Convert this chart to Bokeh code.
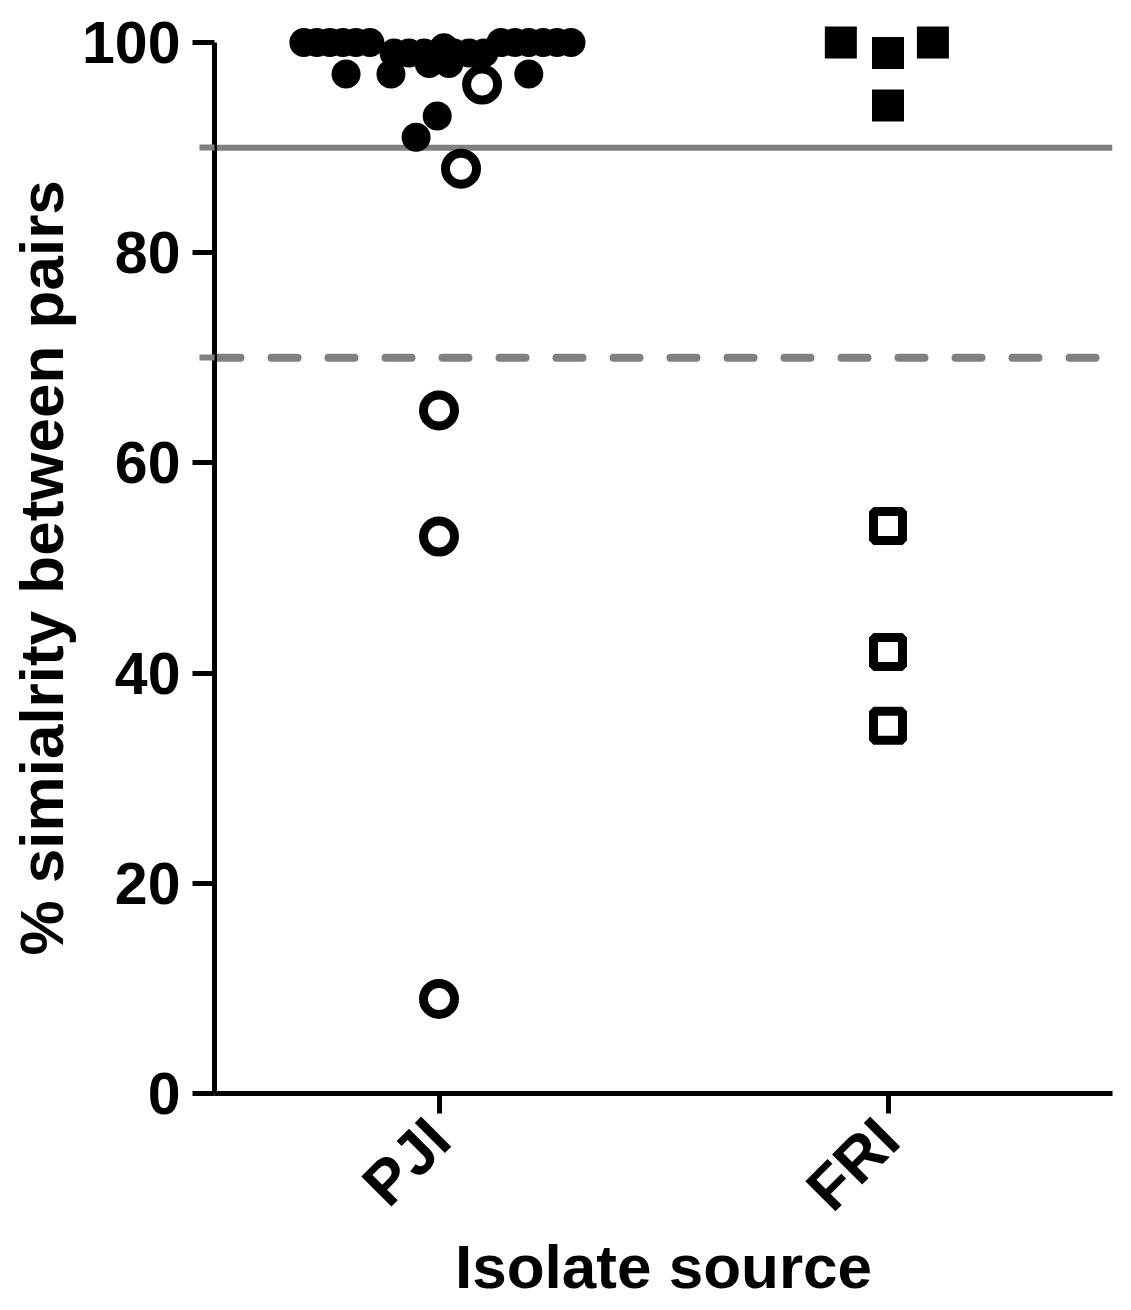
import math
from bokeh.plotting import figure
from bokeh.models import FixedTicker, Span, Range1d, Title
from bokeh.embed import file_html
from bokeh.resources import INLINE

# ---- data ----
categories = ["PJI", "FRI"]

# PJI, pairs above threshold (filled circles): value and horizontal jitter (category units)
pji_closed_y = [100, 100, 100, 100, 100, 100, 100, 100, 100, 100, 100, 100,
                99, 99, 99, 99, 99, 99, 99.5, 98, 98, 97, 97, 97, 93, 91]
pji_closed_dx = [-0.301, -0.272, -0.243, -0.214, -0.185, -0.154,
                 0.138, 0.169, 0.200, 0.232, 0.263, 0.294,
                 -0.100, -0.067, -0.033, 0.033, 0.067, 0.100, 0.011,
                 -0.022, 0.022, -0.207, -0.107, 0.200, -0.004, -0.051]

# PJI, open circles
pji_open_y = [96, 88, 65, 53, 9]
pji_open_dx = [0.096, 0.049, 0.0, 0.0, 0.0]

# FRI, filled squares
fri_closed_y = [100, 99, 100, 94]
fri_closed_dx = [-0.105, 0.0, 0.100, 0.0]

# FRI, open squares
fri_open_y = [54, 42, 35]
fri_open_dx = [0.0, 0.0, 0.0]

threshold_solid = 90
threshold_dashed = 70
y_ticks = [0, 20, 40, 60, 80, 100]

y_label = "% simialrity between pairs"
x_label = "Isolate source"

# ---- positions from categories ----
pos = {c: i + 1 for i, c in enumerate(categories)}
pji_closed_x = [pos["PJI"] + d for d in pji_closed_dx]
pji_open_x = [pos["PJI"] + d for d in pji_open_dx]
fri_closed_x = [pos["FRI"] + d for d in fri_closed_dx]
fri_open_x = [pos["FRI"] + d for d in fri_open_dx]

FONT = "Liberation Sans"
GRAY = "#808080"

p = figure(frame_width=898, frame_height=1085, title=None,
           x_range=Range1d(0.5, 2.5), y_range=Range1d(0, 103.24),
           output_backend="svg", toolbar_location=None,
           min_border_left=214, min_border_right=5,
           min_border_top=8, min_border_bottom=200)
p.outline_line_color = None
p.xgrid.visible = False
p.ygrid.visible = False
p.background_fill_color = "white"
p.border_fill_color = "white"

# reference lines
p.add_layout(Span(location=threshold_solid, dimension="width",
                  line_color=GRAY, line_width=6, level="underlay"))
p.add_layout(Span(location=threshold_dashed, dimension="width",
                  line_color=GRAY, line_width=8, line_dash="26 31",
                  line_cap="round", level="underlay"))

# points
p.scatter(pji_closed_x, pji_closed_y, marker="circle", size=29,
          fill_color="black", line_color="black", line_width=0)
p.scatter(pji_open_x, pji_open_y, marker="circle", size=31,
          fill_color="white", line_color="black", line_width=9)
p.scatter(fri_closed_x, fri_closed_y, marker="square", size=32,
          fill_color="black", line_color="black", line_width=0)
p.scatter(fri_open_x, fri_open_y, marker="square", size=29,
          fill_color="white", line_color="black", line_width=9)

# y axis
ya = p.yaxis[0]
ya.ticker = FixedTicker(ticks=y_ticks, minor_ticks=[threshold_dashed, threshold_solid])
ya.bounds = (0, 100)
ya.axis_line_width = 5
ya.axis_line_color = "black"
ya.major_tick_in = 0
ya.major_tick_out = 22
ya.major_tick_line_width = 5
ya.minor_tick_in = 0
ya.minor_tick_out = 15
ya.minor_tick_line_color = GRAY
ya.minor_tick_line_width = 6
ya.major_label_text_font = FONT
ya.major_label_text_font_style = "bold"
ya.major_label_text_font_size = "59px"
ya.major_label_text_color = "black"
ya.major_label_standoff = 12

# y axis title: starts (bottom) a fixed distance above the frame bottom
p.add_layout(Title(text=y_label, align="left", offset=138,
                   text_font=FONT, text_font_style="bold",
                   text_font_size="62px", text_color="black",
                   standoff=8), "left")

# x axis
xa = p.xaxis[0]
xa.ticker = FixedTicker(ticks=[pos[c] for c in categories])
xa.major_label_overrides = {pos[c]: c for c in categories}
xa.major_label_orientation = math.pi / 4
xa.axis_line_width = 5
xa.axis_line_color = "black"
xa.major_tick_in = 0
xa.major_tick_out = 20
xa.major_tick_line_width = 5
xa.minor_tick_out = 0
xa.minor_tick_in = 0
xa.major_label_text_font = FONT
xa.major_label_text_font_style = "bold"
xa.major_label_text_font_size = "62px"
xa.major_label_text_color = "black"
xa.major_label_standoff = 15
xa.axis_label = x_label
xa.axis_label_text_font = FONT
xa.axis_label_text_font_style = "bold"
xa.axis_label_text_font_size = "62px"
xa.axis_label_text_color = "black"
xa.axis_label_standoff = -19

open("out.html", "w").write(file_html(p, INLINE))
